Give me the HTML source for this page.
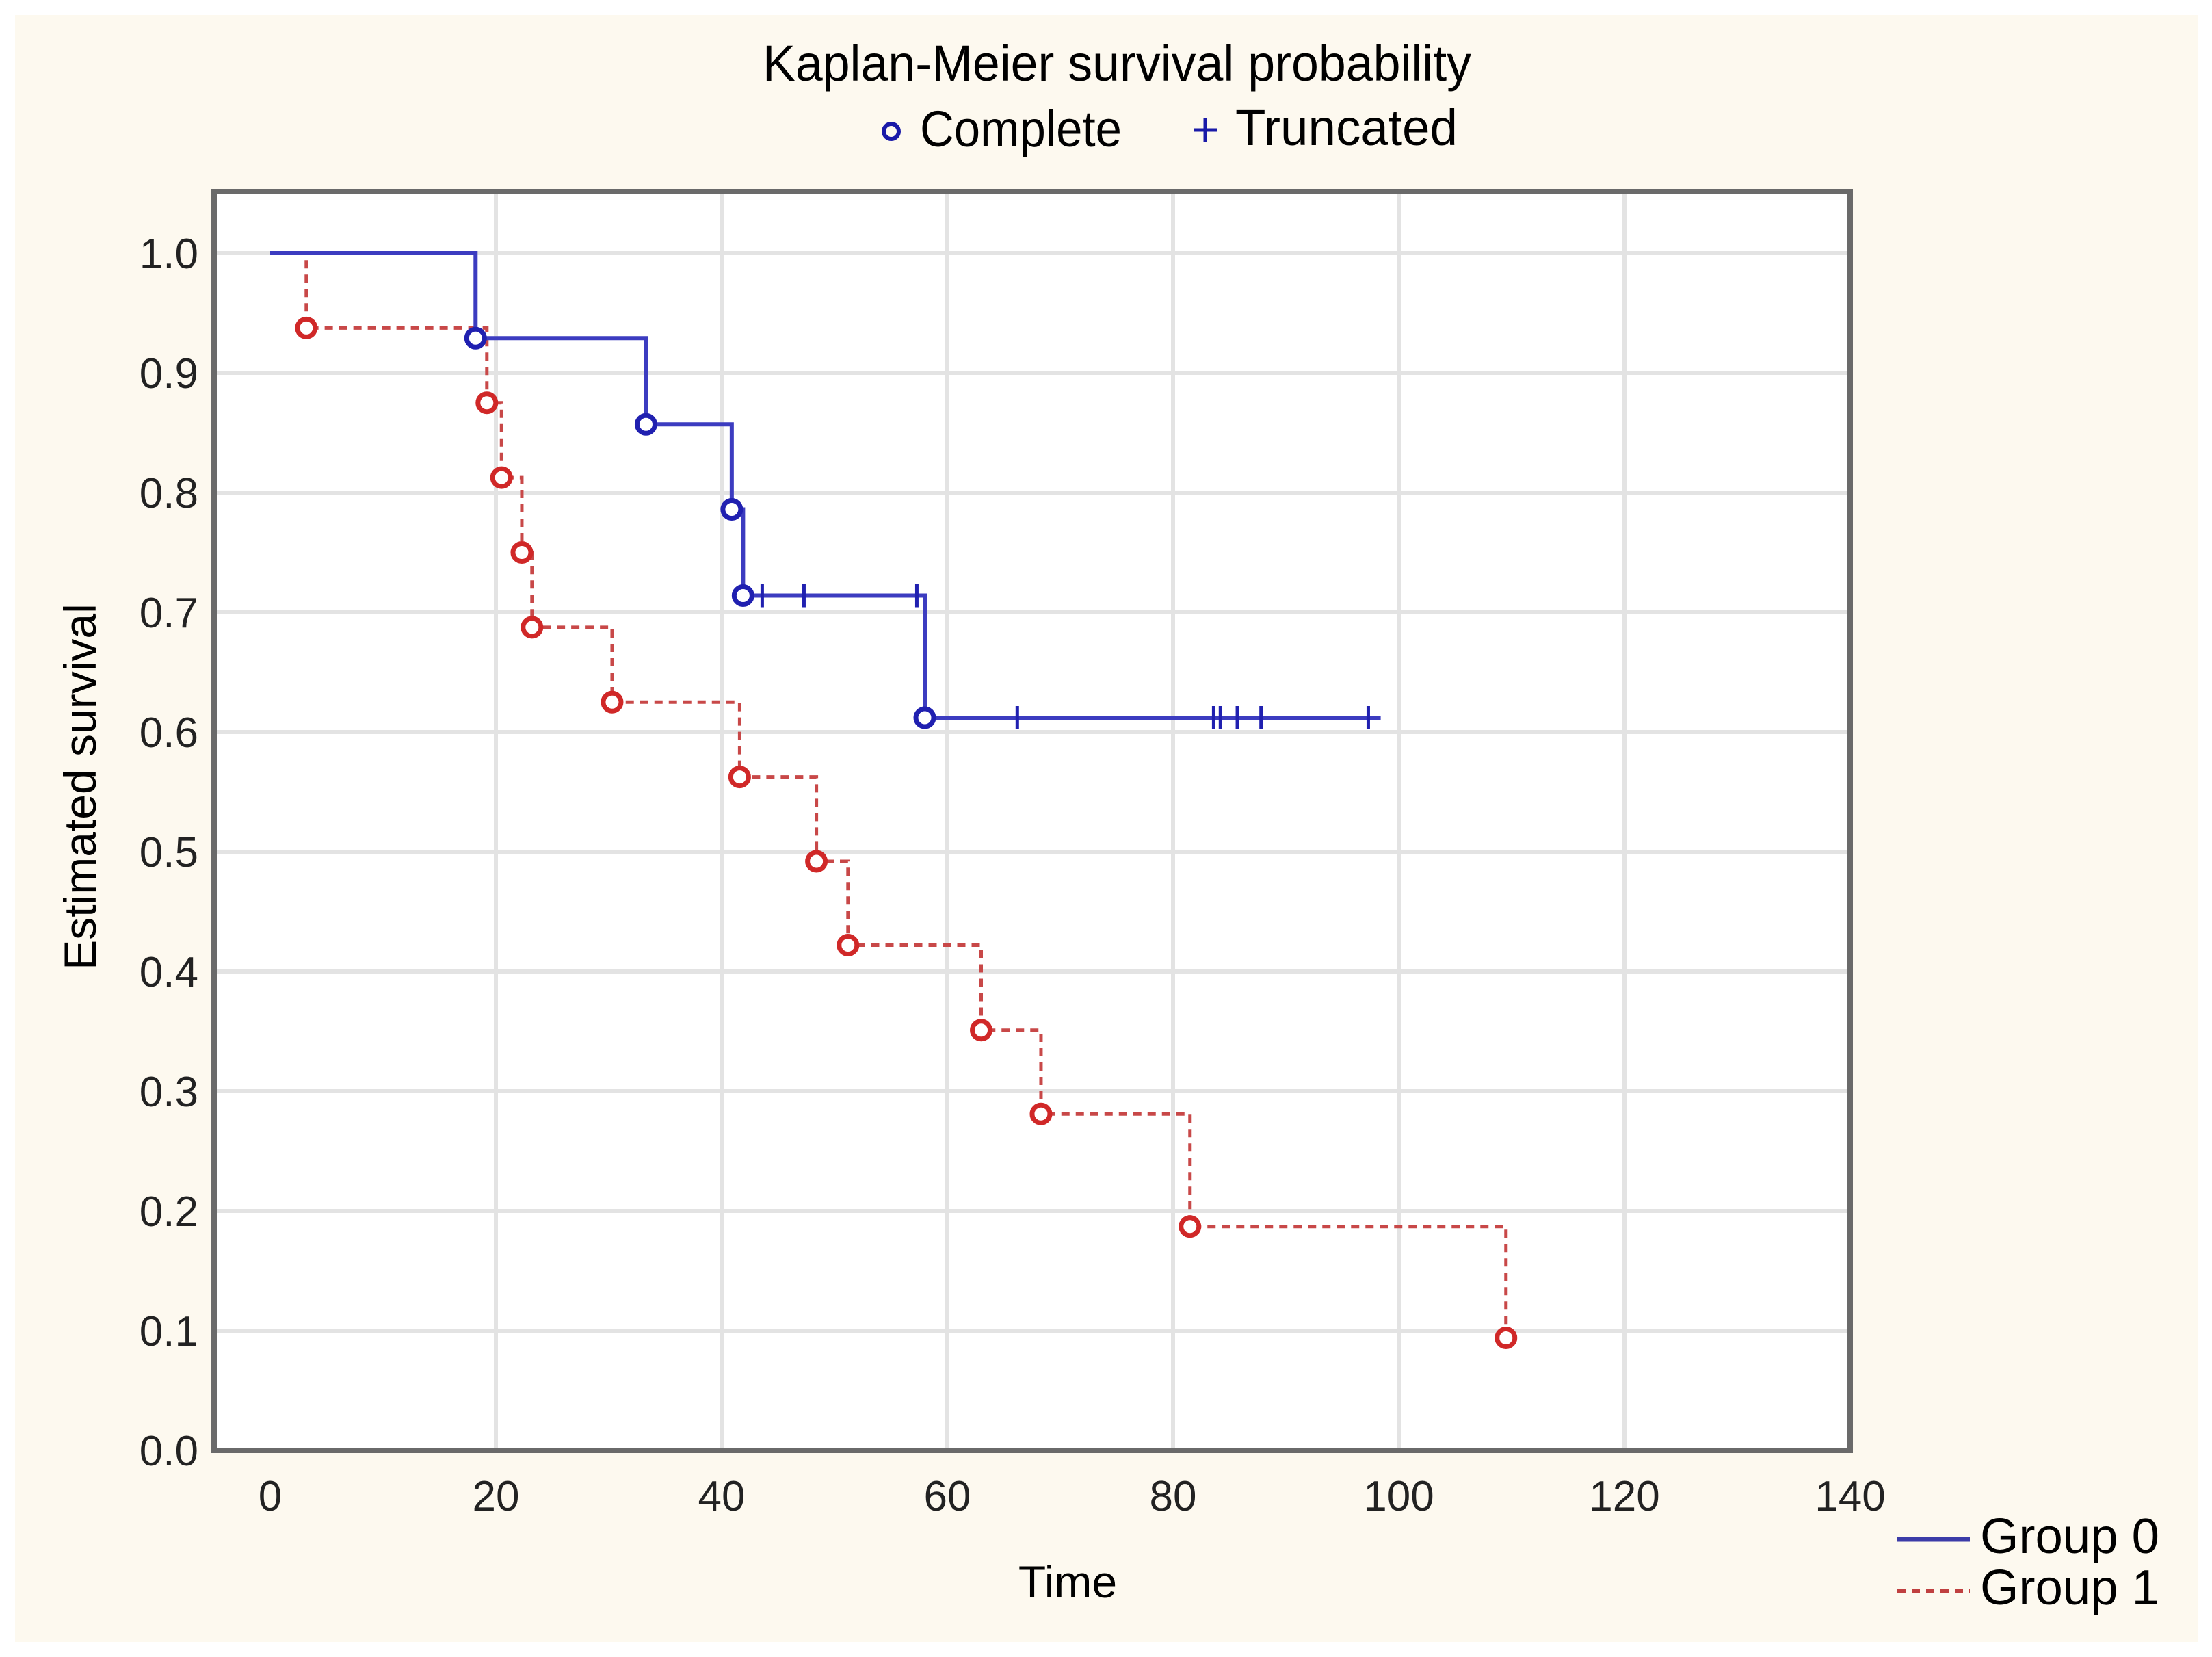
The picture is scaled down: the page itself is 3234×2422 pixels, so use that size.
<!DOCTYPE html>
<html><head><meta charset="utf-8"><style>
html,body{margin:0;padding:0;background:#fff;}
svg{display:block;}
text{font-family:"Liberation Sans",sans-serif;}
</style></head><body>
<svg id="chart" width="3234" height="2422" viewBox="0 0 3234 2422" xmlns="http://www.w3.org/2000/svg">
<rect x="22" y="22" width="3192" height="2378" fill="#fdf9ef"/>
<rect x="313" y="280" width="2392" height="1840" fill="#ffffff"/>
<g id="grid"></g>
<g id="series"></g>
<rect x="313" y="280" width="2392" height="1840" fill="none" stroke="#6a6a6a" stroke-width="8"/>
<g id="axes"></g>
<text x="1115" y="118" font-size="74" textLength="1036" lengthAdjust="spacingAndGlyphs" fill="#000">Kaplan-Meier survival probability</text>
<circle cx="1303" cy="192" r="11" fill="none" stroke="#1a1aa8" stroke-width="6"/>
<text x="1345" y="214" font-size="74" textLength="295" lengthAdjust="spacingAndGlyphs" fill="#000">Complete</text>
<path d="M1745 190h34M1762 173v34" stroke="#1a1aa8" stroke-width="5"/>
<text x="1806" y="212" font-size="74" textLength="325" lengthAdjust="spacingAndGlyphs" fill="#000">Truncated</text>
<text x="1561" y="2335" font-size="66" text-anchor="middle" fill="#000">Time</text>
<text transform="translate(140,1150) rotate(-90)" font-size="66" text-anchor="middle" fill="#000">Estimated survival</text>
<line x1="2774" y1="2250" x2="2880" y2="2250" stroke="#3c3ca8" stroke-width="7"/>
<text x="2895" y="2270" font-size="72" textLength="262" lengthAdjust="spacingAndGlyphs" fill="#000">Group 0</text>
<line x1="2774" y1="2326" x2="2880" y2="2326" stroke="#c04040" stroke-width="6" stroke-dasharray="12 9"/>
<text x="2895" y="2345" font-size="72" textLength="262" lengthAdjust="spacingAndGlyphs" fill="#000">Group 1</text>
</svg>
<script>
const xTicks=[0,20,40,60,80,100,120,140];
const yTicks=[0,0.1,0.2,0.3,0.4,0.5,0.6,0.7,0.8,0.9,1.0];
const yTickLabels=["0.0","0.1","0.2","0.3","0.4","0.5","0.6","0.7","0.8","0.9","1.0"];
const g0EventTimes=[18.2,33.3,40.9,41.9,58.0];
const g0EventSurv=[0.929,0.857,0.786,0.714,0.612];
const g0CensorTimes=[43.6,47.3,57.3,66.2,83.6,84.2,85.7,87.8,97.3];
const g0EndTime=98.4;
const g1EventTimes=[3.2,19.2,20.5,22.3,23.2,30.3,41.6,48.4,51.2,63.0,68.3,81.5,109.5];
const g1EventSurv=[0.9375,0.875,0.8125,0.75,0.6875,0.625,0.5625,0.492,0.422,0.351,0.281,0.187,0.094];

const NS="http://www.w3.org/2000/svg";
const X=t=>395+t*16.5;
const Y=s=>2120-s*1750;
function mk(tag,attrs,parent){const e=document.createElementNS(NS,tag);for(const k in attrs)e.setAttribute(k,attrs[k]);parent.appendChild(e);return e;}
const grid=document.getElementById('grid'),axes=document.getElementById('axes'),ser=document.getElementById('series');
xTicks.forEach((t,i)=>{
  if(t>0&&t<140){const l=mk('line',{x1:X(t),y1:280,x2:X(t),y2:2120,stroke:'#e3e3e3','stroke-width':6},grid);
  
  }
  const tx=mk('text',{x:X(t),y:2208,'font-size':62,'text-anchor':'middle',fill:'#222'},axes);
  tx.textContent=String(t);
  
  
});
yTicks.forEach((v,i)=>{
  if(v>0&&v<1.05){const l=mk('line',{x1:313,y1:Y(v),x2:2705,y2:Y(v),stroke:'#e3e3e3','stroke-width':6},grid);
  
  }
  const tx=mk('text',{x:290,y:Y(v)+22,'font-size':62,'text-anchor':'end',fill:'#222'},axes);
  tx.textContent=yTickLabels[i];
  
  
});
function stepPath(times,surv,end){
  let d=`M${X(0)} ${Y(1)}`;let s=1;
  times.forEach((t,i)=>{d+=` L${X(t)} ${Y(s)} L${X(t)} ${Y(surv[i])}`;s=surv[i];});
  if(end!=null)d+=` L${X(end)} ${Y(s)}`;
  return d;
}
function survAt(times,surv,t){let s=1;times.forEach((tt,i)=>{if(tt<=t)s=surv[i];});return s;}
const p1=mk('path',{d:stepPath(g1EventTimes,g1EventSurv,null),fill:'none',stroke:'#c84848','stroke-width':5,'stroke-dasharray':'12 9'},ser);


g1EventTimes.forEach((t,i)=>{
  const c=mk('circle',{cx:X(t),cy:Y(g1EventSurv[i]),r:13,fill:'#fff',stroke:'#d02828','stroke-width':7},ser);
  
  
});
const p0=mk('path',{d:stepPath(g0EventTimes,g0EventSurv,g0EndTime),fill:'none',stroke:'#3c3cc0','stroke-width':6},ser);


g0EventTimes.forEach((t,i)=>{
  const c=mk('circle',{cx:X(t),cy:Y(g0EventSurv[i]),r:13,fill:'#fff',stroke:'#2020b0','stroke-width':7},ser);
  
  
});
g0CensorTimes.forEach(t=>{
  const y=Y(survAt(g0EventTimes,g0EventSurv,t));
  const l=mk('line',{x1:X(t),y1:y-17,x2:X(t),y2:y+17,stroke:'#2020b0','stroke-width':5},ser);
  
  
});
</script>
</body></html>
